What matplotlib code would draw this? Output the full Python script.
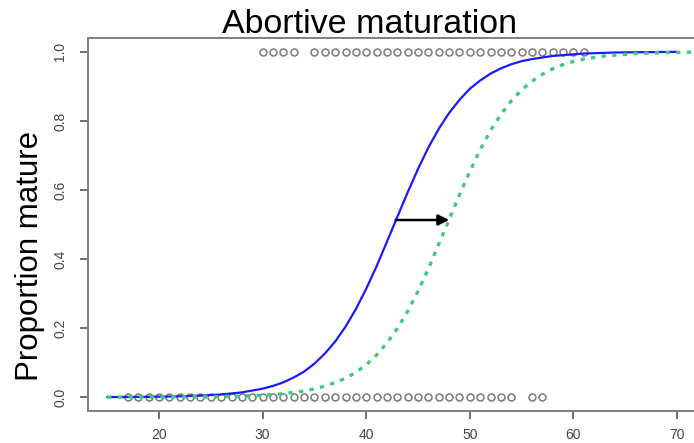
import matplotlib
matplotlib.use("Agg")
import matplotlib.pyplot as plt
from matplotlib.patches import FancyArrowPatch

plt.rcParams['font.family'] = ['Liberation Sans', 'DejaVu Sans']

# ---- data ----
mature_x = [30, 31, 32, 33] + list(range(35, 62))          # observations at 1.0
immature_x = list(range(17, 55)) + [56, 57]                  # observations at 0.0

blue_x = [15, 18, 21, 24, 26, 28, 30, 31, 32, 33, 34, 35, 36, 37, 38, 39, 40, 41, 42,
          43, 44, 45, 46, 47, 48, 49, 50, 51, 52, 53, 54, 55, 56, 58, 61, 64, 67, 70]
blue_y = [0.0003, 0.0008, 0.0019, 0.0044, 0.0078, 0.0139, 0.0246, 0.0326, 0.043,
          0.057, 0.074, 0.097, 0.126, 0.161, 0.204, 0.255, 0.314, 0.379, 0.450,
          0.522, 0.593, 0.661, 0.723, 0.777, 0.823, 0.861, 0.893, 0.917, 0.937,
          0.952, 0.964, 0.973, 0.979, 0.988, 0.995, 0.998, 0.999, 1.0]

green_x = [15, 20, 25, 28, 30, 32, 34, 35, 36, 37, 38, 39, 40, 41, 42, 43, 44, 45, 46,
           47, 48, 49, 50, 51, 52, 53, 54, 55, 56, 57, 58, 59, 60, 61, 63, 66, 69, 72]
green_y = [0.0001, 0.0003, 0.0013, 0.0032, 0.0057, 0.010, 0.018, 0.024, 0.032,
           0.042, 0.055, 0.072, 0.094, 0.122, 0.157, 0.199, 0.249, 0.307, 0.372,
           0.443, 0.514, 0.586, 0.654, 0.717, 0.772, 0.819, 0.858, 0.890, 0.915,
           0.935, 0.951, 0.963, 0.972, 0.979, 0.988, 0.995, 0.998, 0.999]

arrow_y = 0.513
arrow_x_start = 42.85
arrow_x_end = 48.0

x_ticks = [20, 30, 40, 50, 60, 70]
y_ticks = [0.0, 0.2, 0.4, 0.6, 0.8, 1.0]
y_ticklabels = ["0.0", "0.2", "0.4", "0.6", "0.8", "1.0"]

title_text = "Abortive maturation"
ylabel_text = "Proportion mature"

# ---- figure ----
W, H = 694, 443
fig = plt.figure(figsize=(W / 100, H / 100), dpi=100)
ax = fig.add_axes([88 / W, 1 - 411 / H, 615 / W, (411 - 38) / H])
ax.set_xlim(13.15, 72.5)
ax.set_ylim(-0.04, 1.04)

ax.plot(mature_x, [1.0] * len(mature_x), linestyle='none', marker='o',
        markersize=5, markerfacecolor='none', markeredgecolor='#7a7a7a',
        markeredgewidth=1.1, zorder=2)
ax.plot(immature_x, [0.0] * len(immature_x), linestyle='none', marker='o',
        markersize=5, markerfacecolor='none', markeredgecolor='#7a7a7a',
        markeredgewidth=1.1, zorder=2)

ax.plot(blue_x, blue_y, color='#1a1aff', lw=1.6, zorder=3,
        solid_capstyle='round', solid_joinstyle='round')
ax.plot(green_x, green_y, color='#3dcc7a', lw=2.4, linestyle=(0, (1.3, 1.9)),
        zorder=3)

arr = FancyArrowPatch((arrow_x_start, arrow_y), (arrow_x_end, arrow_y),
                      arrowstyle='-|>', mutation_scale=16, color='black',
                      lw=1.8, zorder=4, shrinkA=0, shrinkB=0)
ax.add_patch(arr)

for s in ax.spines.values():
    s.set_color('#7f7f7f')
    s.set_linewidth(1.4)

ax.set_xticks(x_ticks)
ax.set_xticklabels([str(t) for t in x_ticks])
ax.set_yticks(y_ticks)
ax.set_yticklabels(y_ticklabels, rotation=90, va='center')
ax.tick_params(axis='both', direction='out', length=6, width=1.2,
               colors='#555555', labelsize=10, labelcolor='#444444')
ax.tick_params(axis='x', pad=6)
ax.tick_params(axis='y', pad=9)

fig.text(370 / W, 1 - 33 / H, title_text, ha='center', va='baseline',
         fontsize=24.5, color='black')
fig.text(30 / W, 1 - 256 / H, ylabel_text, ha='center', va='center',
         rotation=90, fontsize=22.5, color='black')

fig.savefig('out.png', dpi=100)
